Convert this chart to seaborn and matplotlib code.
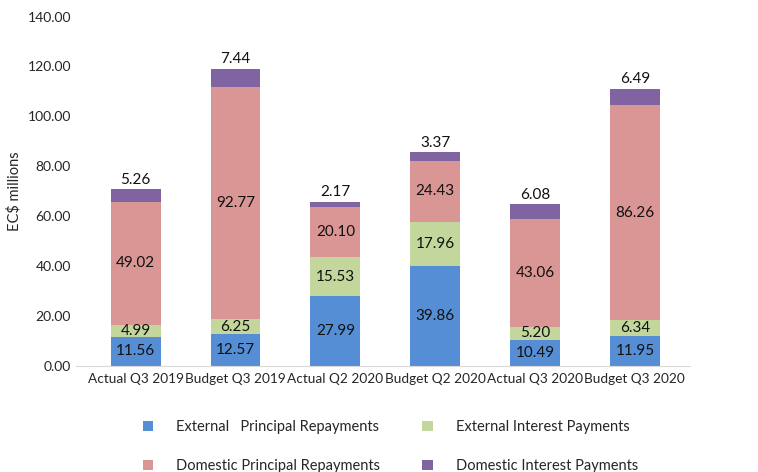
from matplotlib import pyplot as plt
import pandas as pd
import seaborn as sns
import numpy as np

# data
periods = ['Actual Q3 2019', 'Budget Q3 2019', 'Actual Q2 2020',
           'Budget Q2 2020', 'Actual Q3 2020', 'Budget Q3 2020']
ext_principal = [11.56, 12.57, 27.99, 39.86, 10.49, 11.95]
ext_interest = [4.99, 6.25, 15.53, 17.96, 5.20, 6.34]
dom_principal = [49.02, 92.77, 20.10, 24.43, 43.06, 86.26]
dom_interest = [5.26, 7.44, 2.17, 3.37, 6.08, 6.49]

series = ['External   Principal Repayments', 'External Interest Payments',
          'Domestic Principal Repayments', 'Domestic Interest Payments']
colors = ['#558ED5', '#C3D69B', '#D99694', '#8064A2']

df = pd.DataFrame({'period': periods,
                   series[0]: ext_principal,
                   series[1]: ext_interest,
                   series[2]: dom_principal,
                   series[3]: dom_interest})

sns.set_style("white")
plt.rcParams['font.family'] = ['Lato', 'DejaVu Sans']

fig = plt.figure(figsize=(7.58, 4.72), dpi=100)
ax = fig.add_axes([0.1, 0.225, 0.81, 0.74])

bottom = np.zeros(len(periods))
for i, name in enumerate(series):
    sns.barplot(ax=ax, data=df, x='period', y=name, color=colors[i],
                saturation=1, width=0.5, bottom=bottom, label=name,
                linewidth=0)
    vals = df[name].to_numpy()
    for j, v in enumerate(vals):
        if i == 3:
            ax.text(j, bottom[j] + v + 1.0, f'{v:.2f}', ha='center',
                    va='bottom', fontsize=11, color='#111111')
        else:
            ax.text(j, bottom[j] + v / 2, f'{v:.2f}', ha='center',
                    va='center', fontsize=11, color='#111111')
    bottom = bottom + vals

# style axes
ax.set_ylim(0, 140)
ax.set_yticks(np.arange(0, 141, 20))
ax.set_yticklabels([f'{t:.2f}' for t in np.arange(0, 141, 20)])
ax.set_xlim(-0.6, 5.55)
ax.set(xlabel='')
ax.set_ylabel('EC$ millions', fontsize=10.5)
ax.tick_params(axis='both', length=0, labelsize=10)
ax.tick_params(axis='x', labelsize=9.8, pad=5)
for s in ['top', 'right', 'left']:
    ax.spines[s].set_visible(False)
ax.spines['bottom'].set_color('#D9D9D9')

# legend below the plot
handles, labels = ax.get_legend_handles_labels()
if ax.get_legend():
    ax.get_legend().remove()
order = [0, 2, 1, 3]
fig.legend([handles[k] for k in order], [labels[k] for k in order],
           loc='lower center', ncol=2, frameon=False,
           bbox_to_anchor=(0.515, -0.03), fontsize=10.5, handlelength=0.7,
           handleheight=0.7, handletextpad=1.6, columnspacing=2.9,
           labelspacing=1.7)

plt.savefig('out.png', dpi=100)
